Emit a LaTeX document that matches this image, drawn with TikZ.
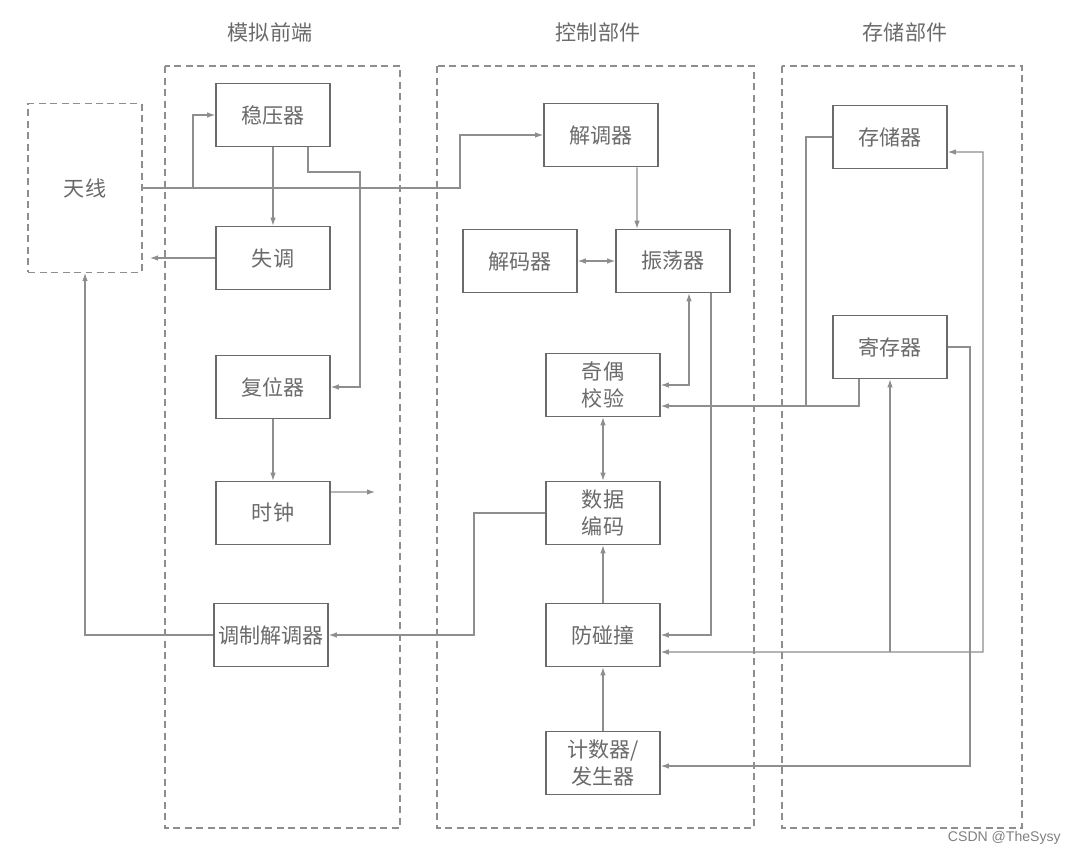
\documentclass[tikz,border=0pt]{standalone}
\usepackage{fontspec}
\usepackage{xcolor}
\usetikzlibrary{arrows.meta}
\newfontfamily\cjk{Noto Sans CJK SC}
\newfontfamily\wmfont{Liberation Sans}
\definecolor{ink}{HTML}{6A6A6A}
\definecolor{wire}{HTML}{8E8E8E}

\begin{document}
\begin{tikzpicture}[x=0.02cm,y=-0.02cm,
  blk/.style={draw=ink,line width=0.9pt,minimum width=2.28cm,minimum height=1.26cm,inner sep=0pt,
    font=\cjk\fontsize{12}{15}\selectfont,text=ink,align=center},
  grp/.style={draw=wire,dash pattern=on 1.4mm off 0.9mm,line width=0.6pt},
  arr/.style={draw=wire,line width=0.6pt,-{Latex[length=1.6mm,width=1.1mm]}},
  darr/.style={draw=wire,line width=0.6pt,{Latex[length=1.6mm,width=1.1mm]}-{Latex[length=1.6mm,width=1.1mm]}},
  ttl/.style={font=\cjk\fontsize{12}{14}\selectfont,text=ink}]
  \useasboundingbox (0,0) rectangle (1065,850);

  % three groups
  \draw[grp] (165,66) rectangle (400,828);
  \draw[grp] (437,66) rectangle (754,828);
  \draw[grp] (782,66) rectangle (1022,828);
  \node[ttl] (t1) at (270,32) {模拟前端};
  \node[ttl] (t2) at (598,32) {控制部件};
  \node[ttl] (t3) at (905,32) {存储部件};

  \node[blk,grp,minimum height=3.38cm] (ant) at (85,188) {天线};
  \foreach \n/\p/\t in {wy/{(273,115)}/稳压器, sd/{(273,258)}/失调, fw/{(273,387)}/复位器,
      sz/{(273,513)}/时钟, tz/{(271,635)}/调制解调器, jtq/{(601,135)}/解调器,
      jm/{(520,261)}/解码器, zd/{(673,261)}/振荡器, jo/{(603,385)}/{奇偶\\校验},
      sj/{(603,513)}/{数据\\编码}, fp/{(603,635)}/防碰撞, js/{(603,763)}/{计数器/\\发生器},
      cc/{(890,137)}/存储器, jc/{(890,347)}/寄存器}
    \node[blk] (\n) at \p {\t};

  \coordinate (b1) at (193,188);
  \coordinate (c1) at (460,188);
  \coordinate (c4) at (360,172);
  \coordinate (antin) at (150,258);
  \coordinate (clkout) at (375,492);
  \coordinate (c9) at (474,513);
  \coordinate (c14) at (806,406);
  \coordinate (c15) at (983,652);
  \coordinate (c16) at (970,347);

  % analog front end
  \draw[arr] (ant.east) -- (c1) |- (jtq.west);
  \draw[arr] (b1) |- (wy.west);
  \draw[arr] (wy.south) -- (sd.north);
  \draw[arr] ([xshift=0.7cm]wy.south) |- (c4) |- (fw.east);
  \draw[arr] (sd.west) -- (antin);
  \draw[arr] (fw.south) -- (sz.north);
  \draw[arr] ([yshift=0.42cm]sz.east) -- (clkout);
  \draw[arr] (tz.west) -| (ant.south);
  \draw[arr] (sj.west) -- (c9) |- (tz.east);

  % control part
  \draw[arr] ([xshift=0.72cm]jtq.south) -- ([xshift=-0.72cm]zd.north);
  \draw[darr] (jm.east) -- (zd.west);
  \draw[darr] ([xshift=0.32cm]zd.south) |- (jo.east);
  \draw[arr] ([xshift=0.76cm]zd.south) |- (fp.east);
  \draw[darr] (jo.south) -- (sj.north);
  \draw[arr] (fp.north) -- (sj.south);
  \draw[arr] (js.north) -- (fp.south);

  % storage part
  \draw[arr] ([xshift=-0.62cm]jc.south) |- ([yshift=-0.42cm]jo.east);
  \draw[wire,line width=0.6pt] (cc.west) -| (c14);
  \draw[darr] ([yshift=-0.34cm]fp.east) -- (c15) |- ([yshift=-0.3cm]cc.east);
  \draw[arr] (jc.south |- c15) -- (jc.south);
  \draw[arr] (jc.east) -- (c16) |- ([yshift=-0.06cm]js.east);

  \node[font=\wmfont\fontsize{8}{9}\selectfont,text=black!50,anchor=east,inner sep=0pt] (wm) at (1061,838) {CSDN @TheSysy};
\end{tikzpicture}
\end{document}
